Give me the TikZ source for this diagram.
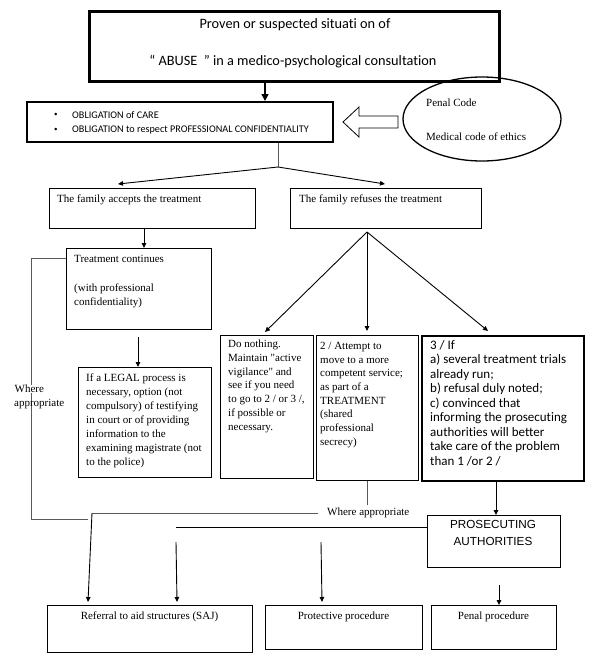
\documentclass[tikz,border=0pt]{standalone}
\usepackage{fontspec}
\setmainfont{Liberation Serif}[Ligatures=TeXOff]
\newfontfamily\calfont{Carlito}[Ligatures={NoCommon,TeXOff}]
\newfontfamily\arfont{Liberation Sans}
\usetikzlibrary{arrows.meta,shapes.geometric}
\begin{document}
\begin{tikzpicture}[x=1pt,y=-1pt,
  box/.style={draw, line width=1.2pt, inner sep=0pt, anchor=north west},
  txt/.style={inner sep=0pt, anchor=north west, align=left, font=\fontsize{11}{13.7}\selectfont},
  ctxt/.style={inner sep=0pt, font=\fontsize{11}{13.7}\selectfont},
  con/.style={line width=0.9pt},
  gcon/.style={line width=0.9pt, draw=black!65},
  arr/.style={line width=0.9pt, -{Triangle[length=5pt,width=4.5pt]}},
]
\useasboundingbox (0,0) rectangle (596,662);

% ---------- nodes ----------
\node[box, line width=2.6pt, minimum width=410pt, minimum height=70pt] (top) at (88,10) {};
\node[inner sep=0pt, font=\calfont\fontsize{14.3}{17}\selectfont] (top1) at (295,25) {Proven or suspected situati on of};
\node[inner sep=0pt, font=\calfont\fontsize{14.3}{17}\selectfont] (top2) at (293,62) {“ ABUSE\ \ ” in a medico-psychological consultation};

\node[box, line width=1.6pt, minimum width=306pt, minimum height=40pt] (obl) at (26,101) {};
\node[inner sep=0pt, anchor=west, font=\calfont\fontsize{7}{9}\selectfont] (b1) at (54,115) {•};
\node[inner sep=0pt, anchor=west, font=\calfont\fontsize{7}{9}\selectfont] (b2) at (54,130) {•};
\node[inner sep=0pt, anchor=west, font=\calfont\fontsize{10.2}{12}\selectfont] (o1) at (72,115) {OBLIGATION of CARE};
\node[inner sep=0pt, anchor=west, font=\calfont\fontsize{10.2}{12}\selectfont] (o2) at (72,130) {OBLIGATION to respect PROFESSIONAL CONFIDENTIALITY};

\node[ellipse, draw, line width=1.3pt, minimum width=158pt, minimum height=84pt, inner sep=0pt] (code) at (482,119) {};
\node[inner sep=0pt, anchor=west, font=\fontsize{11}{13}\selectfont] (pc) at (426,103) {Penal Code};
\node[inner sep=0pt, anchor=west, font=\fontsize{11}{13}\selectfont] (mc) at (426,137) {Medical code of ethics};

\node[box, minimum width=206pt, minimum height=40pt] (acc) at (49,188) {};
\node[txt] (acct) at (57,195) {The family accepts the treatment};
\node[box, minimum width=191pt, minimum height=40pt] (ref) at (290,188) {};
\node[txt] (reft) at (299,195) {The family refuses the treatment};

\node[box, minimum width=145pt, minimum height=81pt] (treat) at (66,248) {};
\node[txt, font=\fontsize{11}{14.5}\selectfont] (treatt) at (74,255) {Treatment continues\\[14.5pt](with professional\\confidentiality)};

\node[box, minimum width=133pt, minimum height=110pt] (legal) at (78,367) {};
\node[txt, font=\fontsize{11}{14}\selectfont] (legalt) at (86,374) {If a LEGAL process is\\necessary, option (not\\compulsory) of testifying\\in court or of providing\\information to the\\examining magistrate (not\\to the police)};

\node[box, minimum width=93pt, minimum height=143pt] (dn) at (220,335) {};
\node[txt] (dnt) at (228,340) {Do nothing.\\Maintain "active\\vigilance" and\\see if you need\\to go to 2 / or 3 /,\\if possible or\\necessary.};
\node[box, minimum width=102pt, minimum height=145pt] (bx2) at (316,335) {};
\node[txt] (bx2t) at (320,342) {2 / Attempt to\\move to a more\\competent service;\\as part of a\\TREATMENT\\(shared\\professional\\secrecy)};
\node[box, line width=1.8pt, minimum width=162pt, minimum height=145pt] (bx3) at (421,335) {};
\node[txt, font=\calfont\fontsize{13}{14.5}\selectfont] (bx3t) at (430,340) {3 / If\\a) several treatment trials\\already run;\\b) refusal duly noted;\\c) convinced that\\informing the prosecuting\\authorities will better\\take care of the problem\\than 1 /or 2 /};

\node[box, minimum width=133pt, minimum height=52pt] (pros) at (427,515) {};
\node[inner sep=0pt, align=center, font=\arfont\fontsize{11.7}{17}\selectfont] (prost) at (493,533) {PROSECUTING\\AUTHORITIES};

\node[box, minimum width=205pt, minimum height=47pt] (refer) at (47,605) {};
\node[ctxt, anchor=north] (refert) at (149.5,612) {Referral to aid structures (SAJ)};
\node[box, minimum width=157pt, minimum height=44pt] (prot) at (265,605) {};
\node[ctxt, anchor=north] (prott) at (343.5,612) {Protective procedure};
\node[box, minimum width=125pt, minimum height=44pt] (pen) at (431,605) {};
\node[ctxt, anchor=north] (pent) at (493.5,612) {Penal procedure};

% ---------- connectors ----------
\coordinate (c1) at (265,0);
\draw[line width=1.6pt, -{Triangle[length=7pt,width=7pt]}] (top.south -| c1) -- (obl.north -| c1);

\draw[line width=0.8pt] (398,116) -- (359,116) -- (359,107) -- (343,122) -- (359,137) -- (359,128) -- (398,128) -- cycle;

\coordinate (c2) at (278,0);
\coordinate (sp) at (278,167);
\coordinate (tacc) at (118,184);
\coordinate (tref) at (385,184);
\draw[gcon] (obl.south -| c2) -- (sp);
\draw[arr] (sp) -- (tacc);
\draw[arr] (sp) -- (tref);

\coordinate (c3) at (144,0);
\draw[arr] (acc.south -| c3) -- (treat.north -| c3);
\coordinate (l1) at (138,337);
\draw[arr] (l1) -- (legal.north -| l1);

\coordinate (fk) at (367,232);
\coordinate (t1) at (265,332);
\coordinate (t2) at (367,331);
\coordinate (t3) at (488,331);
\draw[arr] (fk) -- (t1);
\draw[arr] (fk) -- (t2);
\draw[arr] (fk) -- (t3);

\coordinate (c5) at (367,0);
\coordinate (e1) at (367,505);
\draw[gcon] (bx2.south -| c5) -- (e1);
\coordinate (c6) at (496,0);
\draw[arr] (bx3.south -| c6) -- (pros.north -| c6);

\node[inner sep=0pt, anchor=west, font=\fontsize{11}{13}\selectfont] (wa) at (327,513) {Where appropriate};
\coordinate (j1) at (92,513);
\draw[gcon] ([xshift=-9pt]wa.west) -- (j1);
\coordinate (j2) at (176,527);
\draw[con] (j2) -- (pros.west |- j2);

\coordinate (lp1) at (31,258);
\coordinate (lp2) at (31,519);
\coordinate (lp3) at (88,519);
\draw[gcon] (treat.west |- lp1) -- (lp1) -- (lp2) -- (lp3);
\node[inner sep=0.5pt, anchor=west, fill=white, font=\fontsize{11}{13}\selectfont] (wh1) at (14,389) {Where};
\node[inner sep=0pt, anchor=west, font=\fontsize{11}{13}\selectfont] (wh2) at (14,404) {appropriate};

\coordinate (ra) at (88,602);
\draw[arr] (j1) -- (ra);
\coordinate (s1) at (176,542);
\coordinate (s1e) at (177,602);
\draw[arr] (s1) -- (s1e);
\coordinate (s2) at (321,542);
\coordinate (s2e) at (322,602);
\draw[arr] (s2) -- (s2e);
\coordinate (s3) at (499,585);
\draw[arr] (s3) -- (pen.north -| s3);
\end{tikzpicture}
\end{document}
